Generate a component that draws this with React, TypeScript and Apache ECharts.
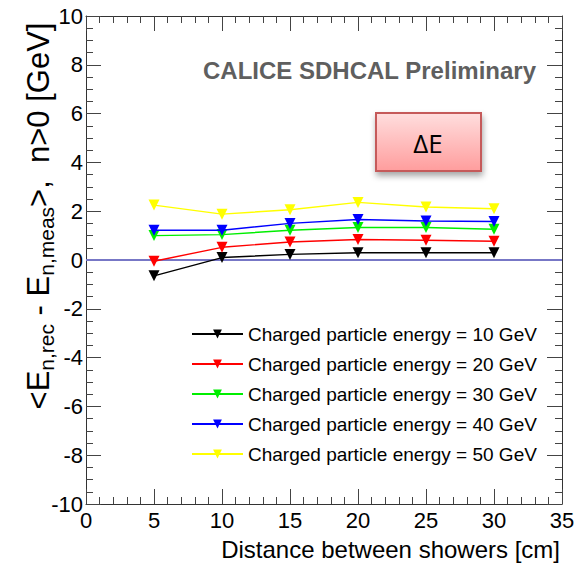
import React, { useEffect, useRef } from "react";
import * as echarts from "echarts";

const distances = [5, 10, 15, 20, 25, 30];
const energyLabels = [
  "Charged particle energy = 10 GeV",
  "Charged particle energy = 20 GeV",
  "Charged particle energy = 30 GeV",
  "Charged particle energy = 40 GeV",
  "Charged particle energy = 50 GeV",
];
const e10 = [-0.65, 0.1, 0.23, 0.3, 0.3, 0.3];
const e20 = [-0.05, 0.52, 0.74, 0.84, 0.81, 0.77];
const e30 = [1.0, 1.04, 1.22, 1.33, 1.33, 1.26];
const e40 = [1.22, 1.22, 1.5, 1.66, 1.6, 1.58];
const e50 = [2.25, 1.88, 2.06, 2.36, 2.17, 2.1];
const seriesValues = [e10, e20, e30, e40, e50];
const seriesColors = ["#000000", "#ff0000", "#00ee00", "#0000ff", "#ffff00"];

const FONT = "'Liberation Sans', Arial, Helvetica, sans-serif";

export default function App() {
  const ref = useRef<HTMLDivElement>(null);
  useEffect(() => {
    if (!ref.current) return;
    const chart = echarts.init(ref.current, null, { renderer: "svg" });

    const axisCommon = {
      axisLine: { show: true, onZero: false, lineStyle: { color: "#333", width: 1 } },
      axisTick: { show: true, inside: true, length: 15, lineStyle: { color: "#444", width: 1 } },
      minorTick: { show: true, length: 7, lineStyle: { color: "#444", width: 1 } },
      splitLine: { show: false },
    };

    const series: any[] = seriesValues.map((vals, i) => ({
      name: energyLabels[i],
      type: "line",
      xAxisIndex: 0,
      yAxisIndex: 0,
      data: distances.map((d, j) => [d, vals[j]]),
      symbol: "triangle",
      symbolRotate: 180,
      symbolSize: 11,
      lineStyle: { color: seriesColors[i], width: 1.4 },
      itemStyle: { color: seriesColors[i] },
      z: 3 + i,
      ...(i === 0
        ? {
            markLine: {
              silent: true,
              symbol: "none",
              label: { show: false },
              lineStyle: { color: "#7777c6", width: 2, type: "solid" },
              data: [{ yAxis: 0 }],
              z: 1,
            },
          }
        : {}),
    }));

    chart.setOption({
      animation: false,
      backgroundColor: "#ffffff",
      grid: { left: 86, top: 16, right: 26, bottom: 62, containLabel: false },
      xAxis: [
        {
          type: "value",
          position: "bottom",
          min: 0,
          max: 35,
          interval: 5,
          ...axisCommon,
          minorTick: { ...axisCommon.minorTick, splitNumber: 5 },
          axisLabel: { show: true, margin: 5, fontSize: 22, color: "#000", fontFamily: FONT },
        },
        {
          type: "value",
          position: "top",
          min: 0,
          max: 35,
          interval: 5,
          ...axisCommon,
          minorTick: { ...axisCommon.minorTick, splitNumber: 5 },
          axisLabel: { show: false },
        },
      ],
      yAxis: [
        {
          type: "value",
          position: "left",
          min: -10,
          max: 10,
          interval: 2,
          ...axisCommon,
          minorTick: { ...axisCommon.minorTick, splitNumber: 4 },
          axisLabel: { show: true, margin: 3, fontSize: 22, color: "#000", fontFamily: FONT, padding: [4, 0, 0, 0] },
        },
        {
          type: "value",
          position: "right",
          min: -10,
          max: 10,
          interval: 2,
          ...axisCommon,
          minorTick: { ...axisCommon.minorTick, splitNumber: 4 },
          axisLabel: { show: false },
        },
      ],
      legend: {
        orient: "vertical",
        left: 186,
        top: 319,
        itemWidth: 51,
        itemHeight: 11,
        itemGap: 10,
        data: energyLabels,
        textStyle: { fontSize: 19, fontFamily: FONT, color: "#000", lineHeight: 20, padding: [0, 0, 0, 0] },
      },
      graphic: [
        {
          type: "text",
          x: 536,
          y: 70,
          style: {
            text: "CALICE SDHCAL Preliminary",
            fontSize: 24,
            fontWeight: "bold",
            fontFamily: FONT,
            fill: "#5f5f5f",
            align: "right",
            verticalAlign: "middle",
          },
        },
        {
          type: "rect",
          shape: { x: 376, y: 113, width: 105, height: 58 },
          style: {
            fill: new echarts.graphic.LinearGradient(0, 0, 0, 1, [
              { offset: 0, color: "#ffdede" },
              { offset: 1, color: "#ff9d9d" },
            ]),
            stroke: "#c55a5a",
            lineWidth: 2,
            shadowBlur: 6,
            shadowOffsetX: 1,
            shadowOffsetY: 4,
            shadowColor: "rgba(0,0,0,0.35)",
          },
        },
        {
          type: "text",
          x: 428,
          y: 143,
          style: {
            text: "ΔE",
            fontSize: 26,
            fontFamily: "'Open Sans', 'Noto Sans', sans-serif",
            fill: "#000",
            align: "center",
            verticalAlign: "middle",
          },
        },
        {
          type: "text",
          x: 560,
          y: 549,
          style: {
            text: "Distance between showers [cm]",
            fontSize: 24,
            fontFamily: FONT,
            fill: "#000",
            align: "right",
            verticalAlign: "middle",
          },
        },
        {
          type: "text",
          x: 38,
          y: 216,
          rotation: Math.PI / 2,
          style: {
            text: "{m|<E}{s|n,rec}{m| - E}{s|n,meas}{m|>,  n>0 [GeV]}",
            align: "center",
            verticalAlign: "middle",
            rich: {
              m: { fontSize: 31, fontFamily: FONT, fill: "#000", lineHeight: 36 },
              s: { fontSize: 21, fontFamily: FONT, fill: "#000", padding: [16, 0, 0, 0] },
            },
          },
        },
      ],
      series,
    });

    return () => chart.dispose();
  }, []);

  return (
    <div
      ref={ref}
      style={{ position: "fixed", left: 0, top: 0, width: 588, height: 566, background: "#fff" }}
    />
  );
}
